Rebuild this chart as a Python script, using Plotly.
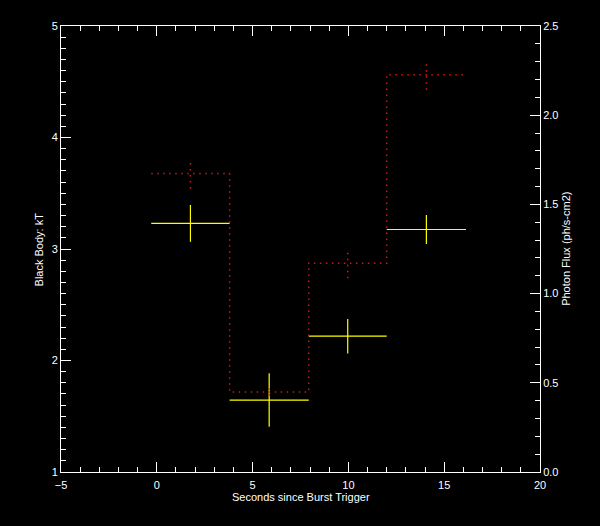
import plotly.graph_objects as go

# Time bins (seconds since burst trigger)
bin_edges = [-0.29, 3.80, 7.93, 12.00, 16.14]
# Black body kT (left axis) with errors
kt_values = [3.23, 1.645, 2.218, 3.175]
kt_errors = [0.165, 0.24, 0.155, 0.13]
# Photon flux (right axis) with errors
flux_values = [1.673, 0.448, 1.170, 2.227]
flux_errors = [0.084, 0.02, 0.084, 0.084]

x_ticks_major = 5
font_family = "Liberation Sans, Arial, sans-serif"

centers = [(a + b) / 2 for a, b in zip(bin_edges[:-1], bin_edges[1:])]
half_w = [(b - a) / 2 for a, b in zip(bin_edges[:-1], bin_edges[1:])]

fig = go.Figure()

# Photon flux step line (right axis)
fig.add_trace(go.Scatter(
    x=bin_edges,
    y=flux_values + [flux_values[-1]],
    mode="lines",
    line=dict(color="#d81010", width=1.5, dash="1.5px,4.5px", shape="hv"),
    yaxis="y2",
    showlegend=False,
    hoverinfo="skip",
))

# Photon flux error bars (dotted verticals)
ex, ey = [], []
for c, f, e in zip(centers, flux_values, flux_errors):
    ex += [c, c, None]
    ey += [f - e, f + e, None]
fig.add_trace(go.Scatter(
    x=ex, y=ey, mode="lines",
    line=dict(color="#e81010", width=1.5, dash="1.5px,4.5px"),
    yaxis="y2", showlegend=False, hoverinfo="skip",
))

# kT crosses (left axis)
fig.add_trace(go.Scatter(
    x=centers, y=kt_values, mode="markers",
    marker=dict(size=0.1, color="#ffff00"),
    error_x=dict(type="data", array=half_w, color="#ffff00", thickness=1.2, width=0),
    error_y=dict(type="data", array=kt_errors, color="#ffff00", thickness=1.2, width=0),
    showlegend=False,
))

axis_font = dict(family=font_family, size=11, color="white")

fig.update_layout(
    width=600, height=526,
    paper_bgcolor="black", plot_bgcolor="black",
    margin=dict(l=61, r=60, t=26, b=54),
    font=axis_font,
    xaxis=dict(
        range=[-5, 20], dtick=x_ticks_major, tick0=0,
        showgrid=False, zeroline=False,
        showline=True, linecolor="white", linewidth=1, mirror="ticks",
        ticks="inside", ticklen=10, tickcolor="white", tickwidth=1,
        minor=dict(dtick=1, ticks="inside", ticklen=5, tickcolor="white", tickwidth=1),
        tickfont=axis_font, ticklabelstandoff=3,
    ),
    yaxis=dict(
        range=[1, 5], dtick=1,
        showgrid=False, zeroline=False,
        showline=True, linecolor="white", linewidth=1,
        ticks="inside", ticklen=10, tickcolor="white", tickwidth=1,
        minor=dict(dtick=0.1, ticks="inside", ticklen=5, tickcolor="white", tickwidth=1),
        tickfont=axis_font,
    ),
    yaxis2=dict(
        range=[0, 2.5], dtick=0.5, tickformat=".1f",
        overlaying="y", side="right",
        showgrid=False, zeroline=False,
        showline=True, linecolor="white", linewidth=1,
        ticks="inside", ticklen=10, tickcolor="white", tickwidth=1,
        minor=dict(dtick=0.1, ticks="inside", ticklen=5, tickcolor="white", tickwidth=1),
        tickfont=axis_font,
    ),
    annotations=[
        dict(text="Seconds since Burst Trigger", x=0.5, y=-0.055, xref="paper", yref="paper",
             xanchor="center", yanchor="middle", showarrow=False, font=axis_font),
        dict(text="Black Body: kT", x=-0.045, y=0.5, xref="paper", yref="paper",
             xanchor="center", yanchor="middle", showarrow=False, textangle=-90, font=axis_font),
        dict(text="Photon Flux (ph/s-cm2)", x=1.054, y=0.5, xref="paper", yref="paper",
             xanchor="center", yanchor="middle", showarrow=False, textangle=-90, font=axis_font),
    ],
)

fig.write_html(
    "out.html",
    config={"displayModeBar": False},
    post_script="document.body.style.margin='0';document.body.style.background='black';",
)
